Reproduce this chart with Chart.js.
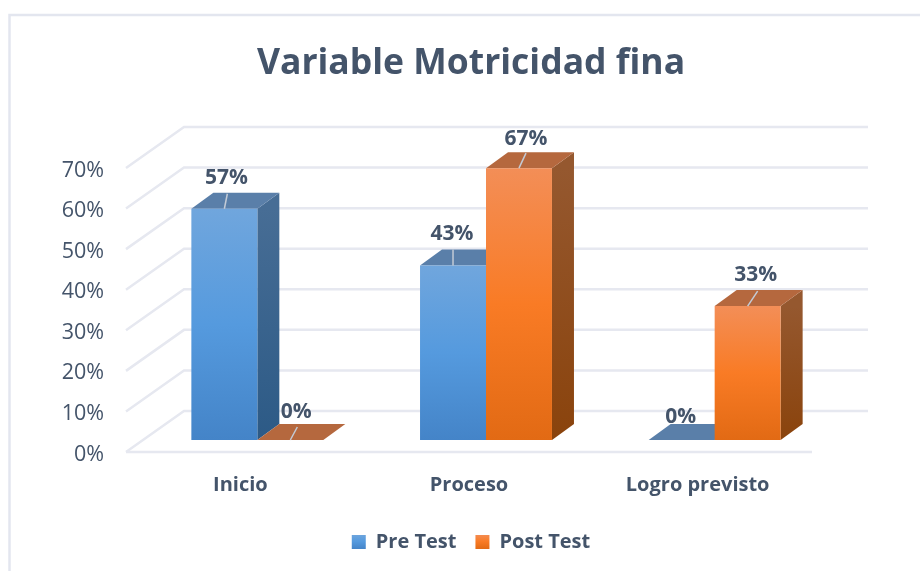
<!DOCTYPE html>
<html><head><meta charset="utf-8">
<style>html,body{margin:0;padding:0;background:#fff}#w{width:920px;height:571px}</style>
<script src="https://cdn.jsdelivr.net/npm/chart.js@4"></script>
</head><body><div id="w"><canvas id="c" width="920" height="571"></canvas></div>
<script>
const categories = ["Inicio", "Proceso", "Logro previsto"];
const preTest = [57, 43, 0];
const postTest = [0, 67, 33];
const yTicksMax = 70;
const chartTitle = "Variable Motricidad fina";

const FONT = '"Open Sans", sans-serif';
const INK = '#44546a';
const GRID = '#e6e8f0';
// 3D geometry, in pixels
const WALL = {dx: 58, dy: -41};
const BAR = {dx: 22, dy: -16, liftX: 17, liftY: -12};
const SKINS = [
  {stops:['#70a6dd','#559ade','#4484c8'], side:['#476d95','#2c5a86'], top:'#5a7fa9'},
  {stops:['#f38e57','#f97b25','#e26a14'], side:['#95582f','#8a430c'], top:'#b5683e'}
];
// per-label leader tweaks [dsIndex][catIndex]: leader dx, dy, text dx, dy
const LABEL = [
  [{lx:3,ly:-15,tx:2,ty:-31},{lx:0,ly:-16,tx:-1,ty:-32},{lx:0,ly:0,tx:-1,ty:-23}],
  [{lx:7,ly:-13,tx:6,ty:-28},{lx:7,ly:-15,tx:7,ty:-29},{lx:10,ly:-15,tx:8,ty:-31}]
];

function grad(ctx, y0, y1, stops){
  const g = ctx.createLinearGradient(0,y0,0,y1);
  stops.forEach((c,i)=>g.addColorStop(i/(stops.length-1),c));
  return g;
}
function fillPoly(ctx, pts, fill){
  ctx.beginPath();
  pts.forEach((p,i)=> i?ctx.lineTo(p[0],p[1]):ctx.moveTo(p[0],p[1]));
  ctx.closePath(); ctx.fillStyle = fill; ctx.fill();
}
const frontFill = i => c => {
  const y = c.chart.scales && c.chart.scales.y;
  if(!y || c.raw===undefined || !c.raw) return SKINS[i].stops[1];
  return grad(c.chart.ctx, y.getPixelForValue(c.raw), y.getPixelForValue(0), SKINS[i].stops);
};

const depth3d = {
  id:'depth3d',
  beforeDraw(chart){
    const {ctx,width,height} = chart;
    ctx.save();
    ctx.strokeStyle = '#e3e6ef'; ctx.lineWidth = 2.5;
    ctx.beginPath(); ctx.moveTo(9.5,height); ctx.lineTo(9.5,15); ctx.lineTo(width,15); ctx.stroke();
    ctx.restore();
  },
  beforeDatasetsDraw(chart){
    const {ctx,chartArea:a,scales:{y}} = chart;
    ctx.save();
    ctx.strokeStyle = GRID; ctx.lineWidth = 2.5;
    y.ticks.forEach(t=>{
      const py = y.getPixelForValue(t.value);
      ctx.beginPath();
      ctx.moveTo(a.left,py);
      ctx.lineTo(a.left+WALL.dx,py+WALL.dy);
      ctx.lineTo(a.right+WALL.dx-2,py+WALL.dy);
      ctx.stroke();
    });
    const p0 = y.getPixelForValue(0);
    ctx.beginPath(); ctx.moveTo(a.left,p0); ctx.lineTo(a.right,p0); ctx.stroke();
    ctx.restore();
    // side and top faces, pre first so that post sits in front of it
    ctx.save();
    ctx.translate(BAR.liftX,BAR.liftY);
    chart.data.datasets.forEach((ds,di)=>{
      const s = SKINS[di];
      chart.getDatasetMeta(di).data.forEach(el=>{
        const p = el.getProps(['x','y','base','width'],true);
        const L = p.x-p.width/2, R = p.x+p.width/2;
        if(p.base>p.y) fillPoly(ctx,[[R,p.y],[R+BAR.dx,p.y+BAR.dy],[R+BAR.dx,p.base+BAR.dy],[R,p.base]],
          grad(ctx,p.y,p.base,s.side));
        fillPoly(ctx,[[L,p.y],[L+BAR.dx,p.y+BAR.dy],[R+BAR.dx,p.y+BAR.dy],[R,p.y]],s.top);
      });
    });
    ctx.restore();
  },
  beforeDatasetDraw(chart){ chart.ctx.save(); chart.ctx.translate(BAR.liftX,BAR.liftY); },
  afterDatasetDraw(chart){ chart.ctx.restore(); },
  afterDatasetsDraw(chart){
    const ctx = chart.ctx;
    ctx.save();
    ctx.translate(BAR.liftX,BAR.liftY);
    chart.data.datasets.forEach((ds,di)=>{
      chart.getDatasetMeta(di).data.forEach((el,i)=>{
        const p = el.getProps(['x','y'],true), o = LABEL[di][i];
        if(o.ly){
          ctx.strokeStyle='#c3cbd6'; ctx.lineWidth=1.5;
          ctx.beginPath(); ctx.moveTo(p.x,p.y); ctx.lineTo(p.x+o.lx,p.y+o.ly); ctx.stroke();
        }
        ctx.fillStyle=INK; ctx.font='bold 21px '+FONT;
        ctx.textAlign='center'; ctx.textBaseline='middle';
        ctx.fillText(ds.data[i]+'%',p.x+o.tx,p.y+o.ty);
      });
    });
    ctx.restore();
  }
};

new Chart(document.getElementById('c'),{
  type:'bar',
  data:{labels:categories,datasets:[
    {label:'Pre Test',data:preTest,backgroundColor:frontFill(0),barPercentage:1,categoryPercentage:0.577},
    {label:'Post Test',data:postTest,backgroundColor:frontFill(1),barPercentage:1,categoryPercentage:0.577}
  ]},
  plugins:[depth3d],
  options:{
    responsive:false,animation:false,
    layout:{padding:{left:22,right:0,top:0,bottom:9}},
    scales:{
      x:{grid:{display:false,drawTicks:false},border:{display:false},
        ticks:{padding:21,color:INK,font:{family:FONT,size:20,weight:'bold'},maxRotation:0},
        afterFit(s){s.height=61;}},
      y:{min:0,max:yTicksMax,grid:{display:false,drawTicks:false},border:{display:false},
        ticks:{stepSize:10,padding:22,labelOffset:2.5,color:INK,font:{family:FONT,size:21.5},callback:v=>v+'%'},
        afterFit(s){s.width=104;}},
      gutter:{axis:'y',position:'right',min:0,max:yTicksMax,grid:{display:false,drawTicks:false},border:{display:false},
        ticks:{display:false},afterFit(s){s.width=108;}}
    },
    plugins:{
      title:{display:true,text:chartTitle,color:INK,align:'center',
        font:{family:FONT,size:35.5,weight:'bold',lineHeight:1.2},padding:{top:43,bottom:82.4}},
      legend:{position:'bottom',align:'center',
        labels:{boxWidth:14,boxHeight:14,padding:19,color:INK,font:{family:FONT,size:20,weight:'bold'},
          generateLabels(chart){
            return chart.data.datasets.map((d,i)=>({text:d.label,datasetIndex:i,fontColor:INK,lineWidth:0,strokeStyle:'transparent',
              fillStyle:grad(chart.ctx,534,549,SKINS[i].stops)}));
          }}},
      tooltip:{enabled:false}
    }
  }
});
</script></body></html>
